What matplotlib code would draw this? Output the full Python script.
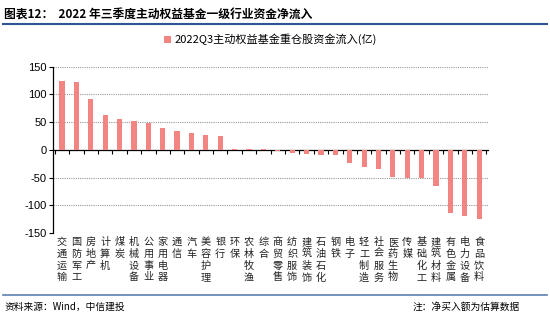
import matplotlib.pyplot as plt
from matplotlib.lines import Line2D
import numpy as np

plt.rcParams['font.family'] = ['Noto Sans CJK SC', 'DejaVu Sans']

industries = ['交通运输', '国防军工', '房地产', '计算机', '煤炭', '机械设备', '公用事业',
              '家用电器', '通信', '汽车', '美容护理', '银行', '环保', '农林牧渔', '综合',
              '商贸零售', '纺织服饰', '建筑装饰', '石油石化', '钢铁', '电子', '轻工制造',
              '社会服务', '医药生物', '传媒', '基础化工', '建筑材料', '有色金属', '电力设备',
              '食品饮料']
inflow = [124, 122, 91, 62, 55, 52, 49, 39, 34, 30, 26, 25, 1, 1, 1,
          -2, -6, -8, -10, -10, -23, -31, -34, -49, -50, -51, -66, -114, -119, -124]
yticks = [-150, -100, -50, 0, 50, 100, 150]
legend_label = '2022Q3主动权益基金重仓股资金流入(亿)'

fig = plt.figure(figsize=(5.5, 3.24), dpi=100)
ax = fig.add_axes([0.097, 0.281, 0.79, 0.513])

x = np.arange(len(industries))
ax.bar(x, inflow, width=0.36, color='#F28482', label=legend_label, zorder=3)

ax.set_xlim(-0.6, len(industries) - 0.4)
ax.set_ylim(-150, 150)
ax.set_yticks(yticks)
ax.set_yticklabels([str(v) for v in yticks], fontsize=8, family='Liberation Sans')
ax.tick_params(axis='y', length=3, width=0.8, direction='out', pad=2)

# zero line carries the category boundary ticks
ax.spines['bottom'].set_position(('data', 0))
ax.spines['bottom'].set_linewidth(0.9)
ax.spines['left'].set_linewidth(0.9)
ax.spines['top'].set_visible(False)
ax.spines['right'].set_visible(False)
ax.set_xticks(np.arange(len(industries) + 1) - 0.5)
ax.set_xticklabels([])
ax.tick_params(axis='x', length=3, width=0.8, direction='out')

for v in [-150, -100, -50, 50, 100, 150]:
    ax.axhline(v, color='#9a9a9a', lw=0.8, ls=(0, (1, 1)), zorder=1)

for i, name in enumerate(industries):
    ax.text(i, -0.025, '\n'.join(name), transform=ax.get_xaxis_transform(),
            ha='center', va='top', fontsize=7.3, linespacing=1.22, color='#222222')

ax.legend(loc='lower center', bbox_to_anchor=(0.5, 1.07), frameon=False,
          fontsize=8, handlelength=0.6, handleheight=0.6, handletextpad=0.3)

# header and footer
fig.text(0.008, 0.955, '图表12：  2022 年三季度主动权益基金一级行业资金净流入',
         fontsize=8.5, fontweight='bold', va='center', ha='left')
fig.add_artist(Line2D([0.005, 0.995], [0.925, 0.925], color='#2E5597', lw=1.5))
fig.add_artist(Line2D([0.005, 0.995], [0.09, 0.09], color='#5B7FAF', lw=1.2))
fig.text(0.008, 0.052, '资料来源：Wind，中信建投', fontsize=7, style='italic',
         va='center', ha='left')
fig.text(0.75, 0.052, '注：净买入额为估算数据', fontsize=7, style='italic',
         va='center', ha='left')

fig.savefig('out.png', dpi=100)
